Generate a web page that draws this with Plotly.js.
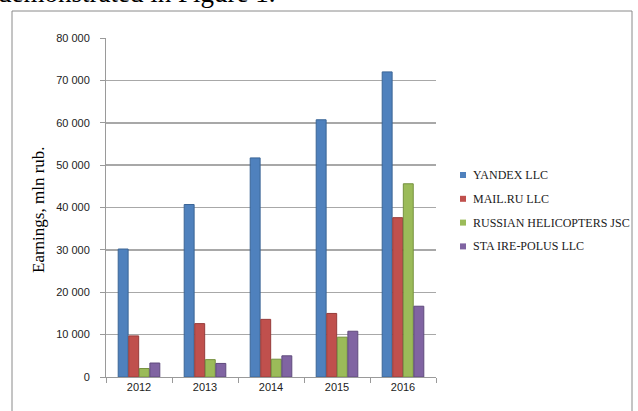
<!DOCTYPE html>
<html>
<head>
<meta charset="utf-8">
<script src="https://cdn.plot.ly/plotly-3.0.1.min.js"></script>
<style>
  html, body { margin: 0; padding: 0; background: #fff; }
  #chart { width: 638px; height: 411px; }
</style>
</head>
<body>
<div id="chart"></div>
<script>
// Earnings by company, mln rub.
const years = ['2012', '2013', '2014', '2015', '2016'];
const companies = ['YANDEX LLC', 'MAIL.RU LLC', 'RUSSIAN HELICOPTERS JSC', 'STA IRE-POLUS LLC'];
const yandex = [30200, 40700, 51700, 60700, 72000];
const mailru = [9700, 12600, 13600, 15000, 37600];
const helicopters = [2000, 4100, 4200, 9400, 45600];
const irePolus = [3300, 3200, 5000, 10800, 16700];
const colors = ['#4F81BD', '#C0504D', '#9BBB59', '#8064A2'];
const outlines = ['#3A6596', '#963C3A', '#76913F', '#5F4A7C'];

const series = [yandex, mailru, helicopters, irePolus];

// plot area in pixels
const W = 638, H = 411;
const L = 106, R = 436, T = 38, B = 377;
const px2x = p => (p - L) / (R - L);
const px2y = p => (B - p) / (B - T);

const traces = series.map((vals, i) => ({
  type: 'bar',
  name: companies[i],
  x: years,
  y: vals,
  marker: { color: colors[i], line: { color: outlines[i], width: 1 } },
  showlegend: false,
  hoverinfo: 'x+y+name'
}));

const shapes = [
  // frame around the figure
  { type: 'rect', xref: 'paper', yref: 'paper',
    x0: px2x(12), x1: px2x(632), y0: px2y(430), y1: px2y(11),
    line: { color: '#8a8a8a', width: 1 }, fillcolor: 'rgba(0,0,0,0)', layer: 'below' }
];

const annotations = [
  // body text running into the figure from above
  { xref: 'paper', yref: 'paper', x: px2x(-4), y: px2y(-7),
    xanchor: 'left', yanchor: 'middle', showarrow: false,
    text: 'demonstrated in Figure 1.',
    font: { family: 'Liberation Serif, Times New Roman, serif', size: 27, color: '#000' } },
  // y-axis title
  { xref: 'paper', yref: 'paper', x: px2x(38), y: px2y(210),
    xanchor: 'center', yanchor: 'middle', showarrow: false, textangle: -90,
    text: 'Earnings, mln rub.',
    font: { family: 'Liberation Serif, Times New Roman, serif', size: 17, color: '#000' } }
];

// legend, built from the company names and colours
companies.forEach((name, i) => {
  const cy = 175 + i * 23.8;
  shapes.push({ type: 'rect', xref: 'paper', yref: 'paper',
    x0: px2x(460), x1: px2x(466), y0: px2y(cy + 3), y1: px2y(cy - 3),
    fillcolor: colors[i], line: { width: 0 } });
  annotations.push({ xref: 'paper', yref: 'paper', x: px2x(471), y: px2y(cy),
    xanchor: 'left', yanchor: 'middle', showarrow: false, text: name,
    font: { family: 'Liberation Serif, Times New Roman, serif', size: 12, color: '#1a1a1a' } });
});

const layout = {
  width: W, height: H,
  margin: { l: L, r: W - R, t: T, b: H - B, pad: 0 },
  paper_bgcolor: '#fff', plot_bgcolor: '#fff',
  separators: ', ',
  barmode: 'group',
  bargap: 0.36,
  bargroupgap: 0.06,
  showlegend: false,
  font: { family: 'Liberation Sans, Arial, sans-serif', size: 10, color: '#333' },
  xaxis: {
    type: 'category',
    showline: true, linecolor: '#9a9a9a', linewidth: 1,
    ticks: 'outside', tickson: 'boundaries', ticklen: 5, tickcolor: '#9a9a9a',
    tickfont: { size: 11, color: '#222' },
    showgrid: false, zeroline: false
  },
  yaxis: {
    range: [0, 80000], dtick: 10000, tickformat: ',d',
    showline: true, linecolor: '#9a9a9a', linewidth: 1,
    ticks: 'outside', ticklen: 5, tickcolor: '#9a9a9a',
    ticklabelstandoff: 8,
    tickfont: { size: 11, color: '#222' },
    showgrid: true, gridcolor: '#a8a8a8', gridwidth: 1.5,
    zeroline: false
  },
  shapes: shapes,
  annotations: annotations
};

Plotly.newPlot('chart', traces, layout, { displayModeBar: false, staticPlot: true });
</script>
</body>
</html>
